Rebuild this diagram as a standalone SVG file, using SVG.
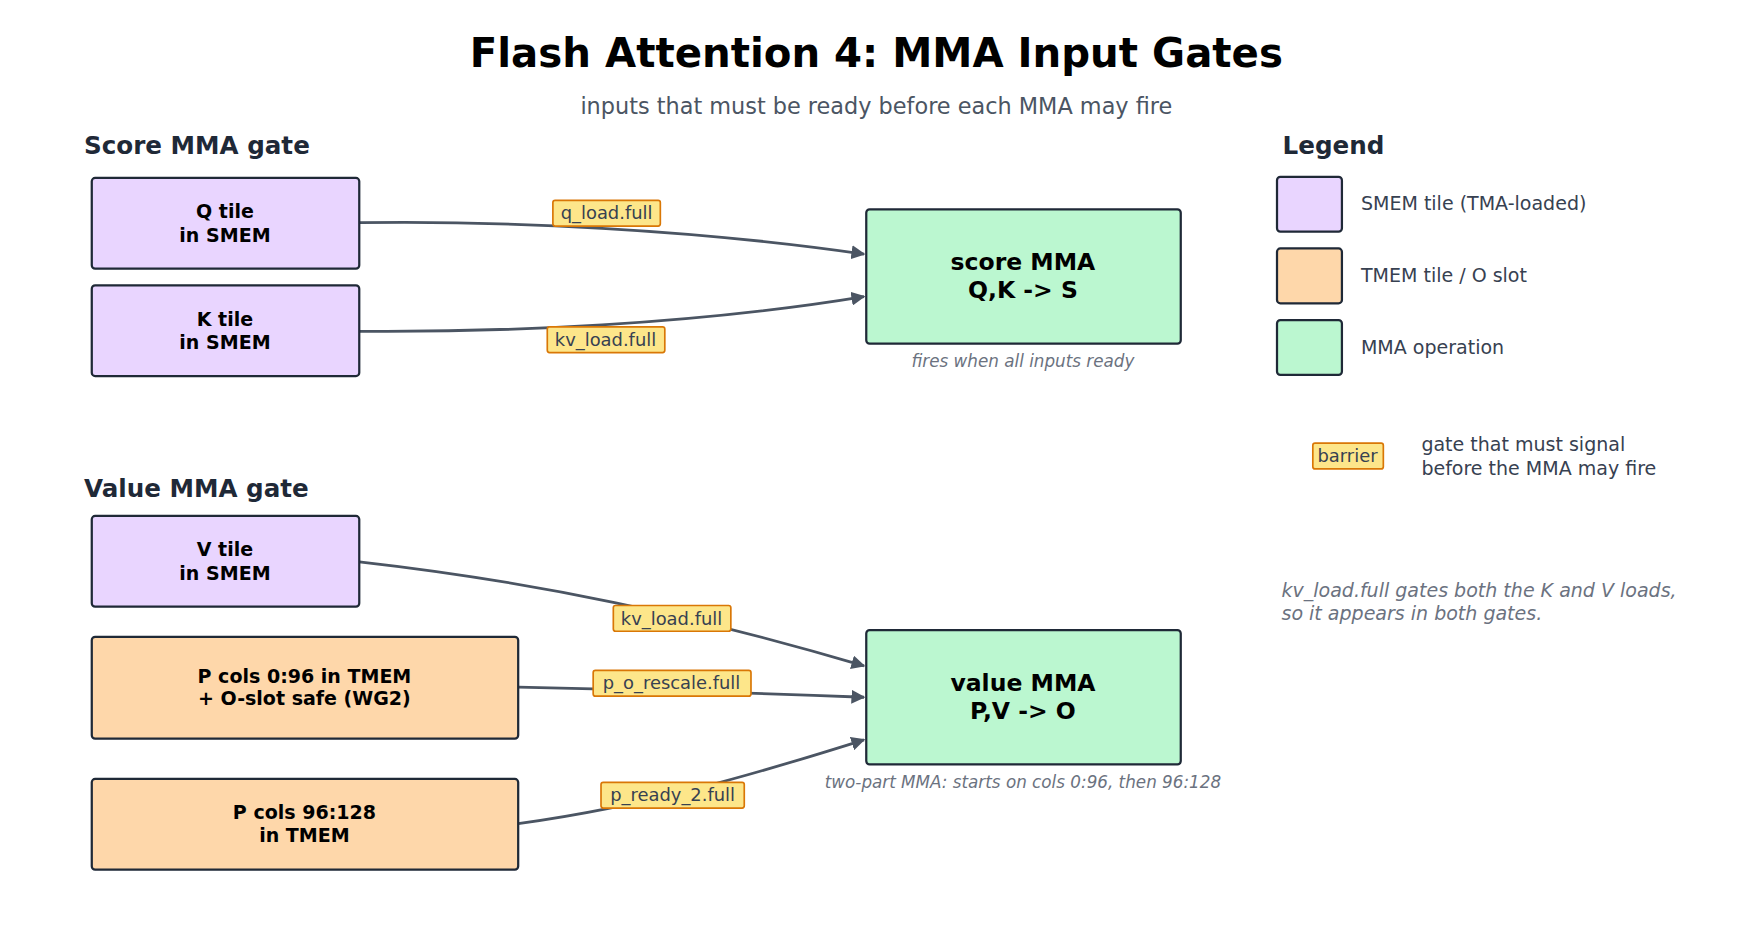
<svg xmlns="http://www.w3.org/2000/svg" width="1746" height="950" viewBox="0 0 1746 950">
<defs>
<marker id="ah" viewBox="0 0 10 10" refX="9" refY="5" markerWidth="5" markerHeight="5" orient="auto"><path d="M0,0 L10,5 L0,10 z" fill="#4b5563"/></marker>
<style>
text{font-family:"DejaVu Sans",sans-serif}
.t{font-weight:bold;font-size:17px;text-anchor:middle;fill:#000}
.m{font-weight:bold;font-size:21px;text-anchor:middle;fill:#000}
.b{stroke:#1f2937;stroke-width:2}
.s{fill:#e9d5ff}.o{fill:#fed7aa}.g{fill:#bbf7d0}
.h{font-weight:bold;font-size:22px;fill:#1f2937}
.cap{font-style:italic;font-size:15px;fill:#6b7280;text-anchor:middle}
.lg{font-size:17px;fill:#374151}
.e{fill:none;stroke:#4b5563;stroke-width:2.5;marker-end:url(#ah)}
.lb{fill:#fde68a;stroke:#d97706;stroke-width:1.5}
.lt{font-size:16px;fill:#374151;text-anchor:middle}
</style>
</defs>
<rect width="1746" height="950" fill="#fff"/>
<g transform="scale(1.1192)">
<text x="783" y="60" text-anchor="middle" font-size="36" font-weight="bold" fill="#000">Flash Attention 4: MMA Input Gates</text>
<text x="783" y="102" text-anchor="middle" font-size="20" fill="#4b5563">inputs that must be ready before each MMA may fire</text>
<text class="h" x="75" y="138">Score MMA gate</text>
<text class="h" x="75" y="444">Value MMA gate</text>
<g id="connectors">
<path class="e" d="M321,199 C450,197 620,205 772,227"/>
<path class="e" d="M321,296 C450,297 620,290 772,265"/>
<path class="e" d="M321,502 C480,520 620,550 772,595"/>
<path class="e" d="M463,614 C560,616 670,619 772,623"/>
<path class="e" d="M463,736 C580,720 680,690 772,661"/>
<rect class="lb" x="494" y="179" width="96" height="23" rx="2"/><text class="lt" x="542" y="196">q_load.full</text>
<rect class="lb" x="489" y="292" width="105" height="23" rx="2"/><text class="lt" x="541" y="309">kv_load.full</text>
<rect class="lb" x="548" y="541" width="105" height="23" rx="2"/><text class="lt" x="600" y="558">kv_load.full</text>
<rect class="lb" x="530" y="599" width="141" height="23" rx="2"/><text class="lt" x="600" y="616">p_o_rescale.full</text>
<rect class="lb" x="537" y="699" width="128" height="23" rx="2"/><text class="lt" x="601" y="716">p_ready_2.full</text>
</g>
<g id="q"><rect class="b s" x="82" y="159" width="239" height="81" rx="3"/><text class="t" x="201" y="195">Q tile</text><text class="t" x="201" y="216">in SMEM</text></g>
<g id="k"><rect class="b s" x="82" y="255" width="239" height="81" rx="3"/><text class="t" x="201" y="291">K tile</text><text class="t" x="201" y="312">in SMEM</text></g>
<g id="score"><rect class="b g" x="774" y="187" width="281" height="120" rx="3"/><text class="m" x="914" y="241">score MMA</text><text class="m" x="914" y="266">Q,K -&gt; S</text><text class="cap" x="914" y="328">fires when all inputs ready</text></g>
<g id="v"><rect class="b s" x="82" y="461" width="239" height="81" rx="3"/><text class="t" x="201" y="497">V tile</text><text class="t" x="201" y="518">in SMEM</text></g>
<g id="p1"><rect class="b o" x="82" y="569" width="381" height="91" rx="3"/><text class="t" x="272" y="610">P cols 0:96 in TMEM</text><text class="t" x="272" y="630">+ O-slot safe (WG2)</text></g>
<g id="p2"><rect class="b o" x="82" y="696" width="381" height="81" rx="3"/><text class="t" x="272" y="732">P cols 96:128</text><text class="t" x="272" y="752">in TMEM</text></g>
<g id="value"><rect class="b g" x="774" y="563" width="281" height="120" rx="3"/><text class="m" x="914" y="617">value MMA</text><text class="m" x="914" y="642">P,V -&gt; O</text><text class="cap" x="914" y="704">two-part MMA: starts on cols 0:96, then 96:128</text></g>
<g id="legend">
<text class="h" x="1146" y="138">Legend</text>
<rect class="b s" x="1141" y="158" width="58" height="49" rx="3"/><text class="lg" x="1216" y="188">SMEM tile (TMA-loaded)</text>
<rect class="b o" x="1141" y="222" width="58" height="49" rx="3"/><text class="lg" x="1216" y="252">TMEM tile / O slot</text>
<rect class="b g" x="1141" y="286" width="58" height="49" rx="3"/><text class="lg" x="1216" y="316">MMA operation</text>
<rect class="lb" x="1173" y="396" width="63" height="23" rx="2"/><text class="lt" x="1204" y="413">barrier</text>
<text class="lg" x="1270" y="403">gate that must signal</text><text class="lg" x="1270" y="424">before the MMA may fire</text>
<text class="lg" x="1145" y="533" font-style="italic" fill="#6b7280" style="fill:#6b7280">kv_load.full gates both the K and V loads,</text>
<text class="lg" x="1145" y="554" font-style="italic" style="fill:#6b7280">so it appears in both gates.</text>
</g>
</g>
</svg>
